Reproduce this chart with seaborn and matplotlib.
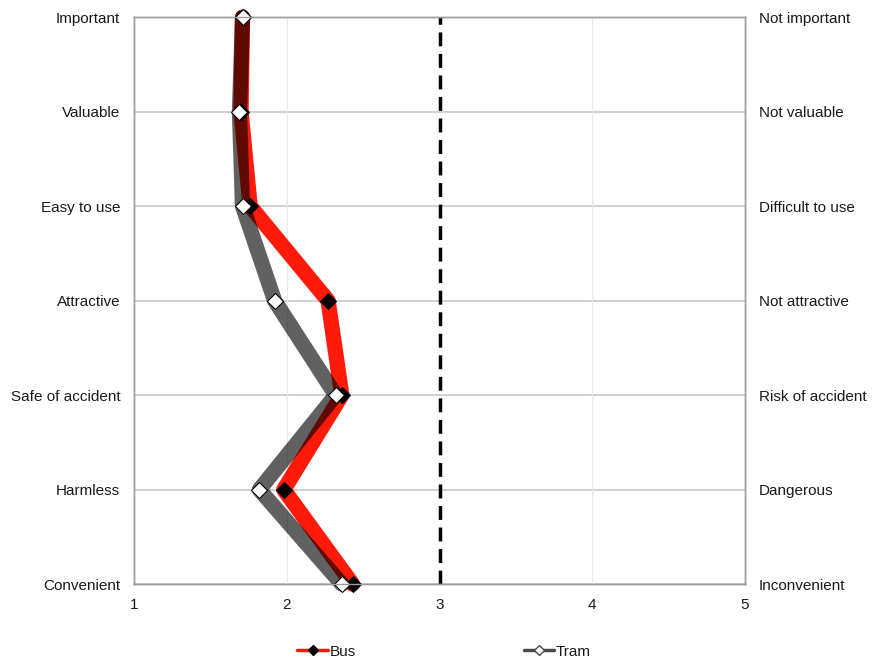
import numpy as np
import pandas as pd
import seaborn as sns
import matplotlib.pyplot as plt
from matplotlib.lines import Line2D

sns.set_style("white")
plt.rcParams['font.family'] = ['Liberation Sans', 'DejaVu Sans']
plt.rcParams['text.color'] = '#1a1a1a'
plt.rcParams['xtick.color'] = '#1a1a1a'
plt.rcParams['ytick.color'] = '#1a1a1a'

left_labels = ["Important", "Valuable", "Easy to use", "Attractive",
               "Safe of accident", "Harmless", "Convenient"]
right_labels = ["Not important", "Not valuable", "Difficult to use", "Not attractive",
                "Risk of accident", "Dangerous", "Inconvenient"]
bus = [1.71, 1.70, 1.76, 2.27, 2.36, 1.98, 2.43]
tram = [1.71, 1.69, 1.71, 1.92, 2.32, 1.82, 2.36]

pos = np.arange(len(left_labels))
df = pd.DataFrame({"pos": pos, "Bus": bus, "Tram": tram})

fig = plt.figure(figsize=(8.88, 6.63), dpi=100)
ax = fig.add_axes([0.151, 0.119, 0.688, 0.855])

# grid
for p in pos:
    ax.axhline(p, color="#c8c8c8", lw=1.2, zorder=0)
for xv in [2, 4]:
    ax.axvline(xv, color="#e8e8ee", lw=0.8, zorder=0)
ax.axvline(3, color="black", lw=2.5, ls=(0, (4, 2.2)), zorder=1)

sns.lineplot(data=df, x="Bus", y="pos", orient="y", sort=False, ax=ax,
             color="#ff1a0a", lw=11, marker="D", markersize=8,
             markerfacecolor="black", markeredgecolor="black", zorder=3,
             clip_on=False)
sns.lineplot(data=df, x="Tram", y="pos", orient="y", sort=False, ax=ax,
             color="black", lw=11, alpha=0.62, zorder=4, clip_on=False)
sns.lineplot(data=df, x="Tram", y="pos", orient="y", sort=False, ax=ax,
             lw=0, marker="D", markersize=8, color="white",
             markerfacecolor="white", markeredgecolor="black", zorder=5,
             clip_on=False)

ax.set_xlim(1, 5)
ax.set_ylim(6, 0)
ax.set_xticks([1, 2, 3, 4, 5])
ax.set_yticks(pos)
ax.set_yticklabels(left_labels, fontsize=11)
ax.tick_params(axis="x", labelsize=11, length=3, pad=7, color="#999999")
ax.tick_params(axis="y", length=0, pad=10)
ax.set_xlabel("")
ax.set_ylabel("")

ax2 = ax.twinx()
ax2.set_ylim(6, 0)
ax2.set_yticks(pos)
ax2.set_yticklabels(right_labels, fontsize=11)
ax2.tick_params(axis="y", length=0, pad=10)

for a in (ax, ax2):
    for s in a.spines.values():
        s.set_color("#9a9a9a")
        s.set_linewidth(1)

handles = [Line2D([], [], color="#ff1a0a", lw=2.5, marker="D", markersize=5,
                  markerfacecolor="black", markeredgecolor="black"),
           Line2D([], [], color="#4a4a4a", lw=2.5, marker="D", markersize=5,
                  markerfacecolor="white", markeredgecolor="#4a4a4a")]
fig.legend(handles, ["Bus", "Tram"], loc="center", bbox_to_anchor=(0.5, 0.017),
           ncol=2, frameon=False, fontsize=11, columnspacing=11,
           handlelength=2.0, handletextpad=0.1)

fig.savefig("out.png", dpi=100)
